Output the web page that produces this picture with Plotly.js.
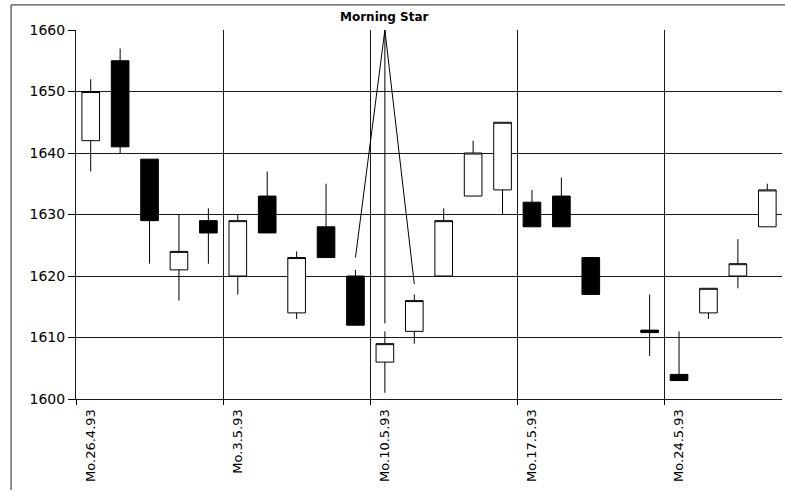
<!DOCTYPE html>
<html>
<head>
<meta charset="utf-8">
<script src="https://cdn.plot.ly/plotly-3.0.1.min.js"></script>
<style>html,body{margin:0;padding:0;background:#fff;}#chart{width:785px;height:496px;}</style>
</head>
<body>
<div id="chart"></div>
<script>
// Trading days (20.5.93 = Christi Himmelfahrt, no trading)
var days = ["26.4.93","27.4.93","28.4.93","29.4.93","30.4.93",
            "3.5.93","4.5.93","5.5.93","6.5.93","7.5.93",
            "10.5.93","11.5.93","12.5.93","13.5.93","14.5.93",
            "17.5.93","18.5.93","19.5.93","20.5.93","21.5.93",
            "24.5.93","25.5.93","26.5.93","27.5.93"];
var openV  = [1642,1655,1639,1621,1629, 1620,1633,1614,1628,1620, 1606,1611,1620,1633,1634, 1632,1633,1623,null,1611.2, 1604,1614,1620,1628];
var highV  = [1652,1657,1639,1630,1631, 1630,1637,1624,1635,1621, 1611,1617,1631,1642,1645, 1634,1636,1623,null,1617,   1611,1618,1626,1635];
var lowV   = [1637,1640,1622,1616,1622, 1617,1627,1613,1623,1612, 1601,1609,1620,1633,1630, 1628,1628,1617,null,1607,   1603,1613,1618,1628];
var closeV = [1650,1641,1629,1624,1627, 1629,1627,1623,1623,1612, 1609,1616,1629,1640,1645, 1628,1628,1617,null,1610.8, 1603,1618,1622,1634];
var weekLabels = ["Mo.26.4.93","Mo.3.5.93","Mo.10.5.93","Mo.17.5.93","Mo.24.5.93"];
var weekStartIdx = [0,5,10,15,20];
var yTicks = [1600,1610,1620,1630,1640,1650,1660];
var patternIdx = [9,10,11];   // Morning Star candles
var patternLabel = "Morning Star";

var xIdx = days.map(function(d,i){return i;});
var boundaries = weekStartIdx.map(function(i){return i-0.5;});
var xr = [-0.5, days.length-0.5];
var yr = [yTicks[0], yTicks[yTicks.length-1]];

var candles = {
  type:'candlestick', x:xIdx, open:openV, high:highV, low:lowV, close:closeV,
  xaxis:'x', yaxis:'y', hoverinfo:'none',
  increasing:{fillcolor:'#ffffff', line:{color:'#000000', width:1}},
  decreasing:{fillcolor:'#000000', line:{color:'#000000', width:1}},
  whiskerwidth:0, showlegend:false
};

// Morning Star pointer lines from top-of-plot apex to the three candles
var apexX = patternIdx[1], apexY = yr[1];
var offs = [2, 1.3, 1.7];
var px = [], py = [];
patternIdx.forEach(function(k,j){
  px.push(apexX, k, null); py.push(apexY, highV[k]+offs[j], null);
});
var pointer = {type:'scatter', mode:'lines', x:px, y:py, xaxis:'x', yaxis:'y',
  line:{color:'#000', width:1}, hoverinfo:'none', showlegend:false, cliponaxis:false};

var fontName = '"DejaVu Sans", Verdana, sans-serif';
var layout = {
  width:785, height:496,
  margin:{l:76, r:3, t:30, b:97},
  paper_bgcolor:'#ffffff', plot_bgcolor:'#ffffff',
  boxgap:0.4, boxgroupgap:0,
  showlegend:false,
  font:{family:fontName, color:'#000', size:14},
  xaxis:{range:xr, tickmode:'array', tickvals:boundaries, showticklabels:false,
    showgrid:true, gridcolor:'#1a1a1a', gridwidth:1,
    ticks:'outside', ticklen:5, tickcolor:'#000',
    showline:true, linecolor:'#1a1a1a', linewidth:1, zeroline:false,
    rangeslider:{visible:false}, fixedrange:true},
  xaxis2:{range:xr, overlaying:'x', anchor:'y', side:'bottom',
    tickmode:'array', tickvals:weekStartIdx, ticktext:weekLabels,
    tickangle:-90, ticks:'outside', ticklen:4, tickcolor:'rgba(0,0,0,0)',
    showgrid:false, showline:false, zeroline:false,
    tickfont:{family:fontName, size:13, color:'#000'}, fixedrange:true},
  yaxis:{range:yr, tickmode:'array', tickvals:yTicks,
    showgrid:true, gridcolor:'#1a1a1a', gridwidth:1,
    ticks:'outside', ticklen:7, tickcolor:'#000',
    showline:true, linecolor:'#1a1a1a', linewidth:1, zeroline:false,
    tickfont:{family:fontName, size:14, color:'#000'}, fixedrange:true},
  annotations:[{x:apexX, xref:'x', y:1, yref:'paper', yanchor:'bottom', yshift:4,
    text:patternLabel, showarrow:false,
    font:{family:fontName, size:12, color:'#000', weight:'bold'}}],
  shapes:[
    {type:'line', xref:'paper', yref:'paper', x0:-0.092, x1:1.01, y0:1.068, y1:1.068, line:{color:'#222', width:1}},
    {type:'line', xref:'paper', yref:'paper', x0:-0.092, x1:-0.092, y0:-0.247, y1:1.068, line:{color:'#222', width:1}}
  ]
};
var xaxis2Dummy = {type:'scatter', x:[xr[0]], y:[yr[0]], xaxis:'x2', yaxis:'y', mode:'markers',
  marker:{opacity:0}, hoverinfo:'none', showlegend:false};

Plotly.newPlot('chart', [candles, pointer, xaxis2Dummy], layout, {staticPlot:true});
</script>
</body>
</html>
